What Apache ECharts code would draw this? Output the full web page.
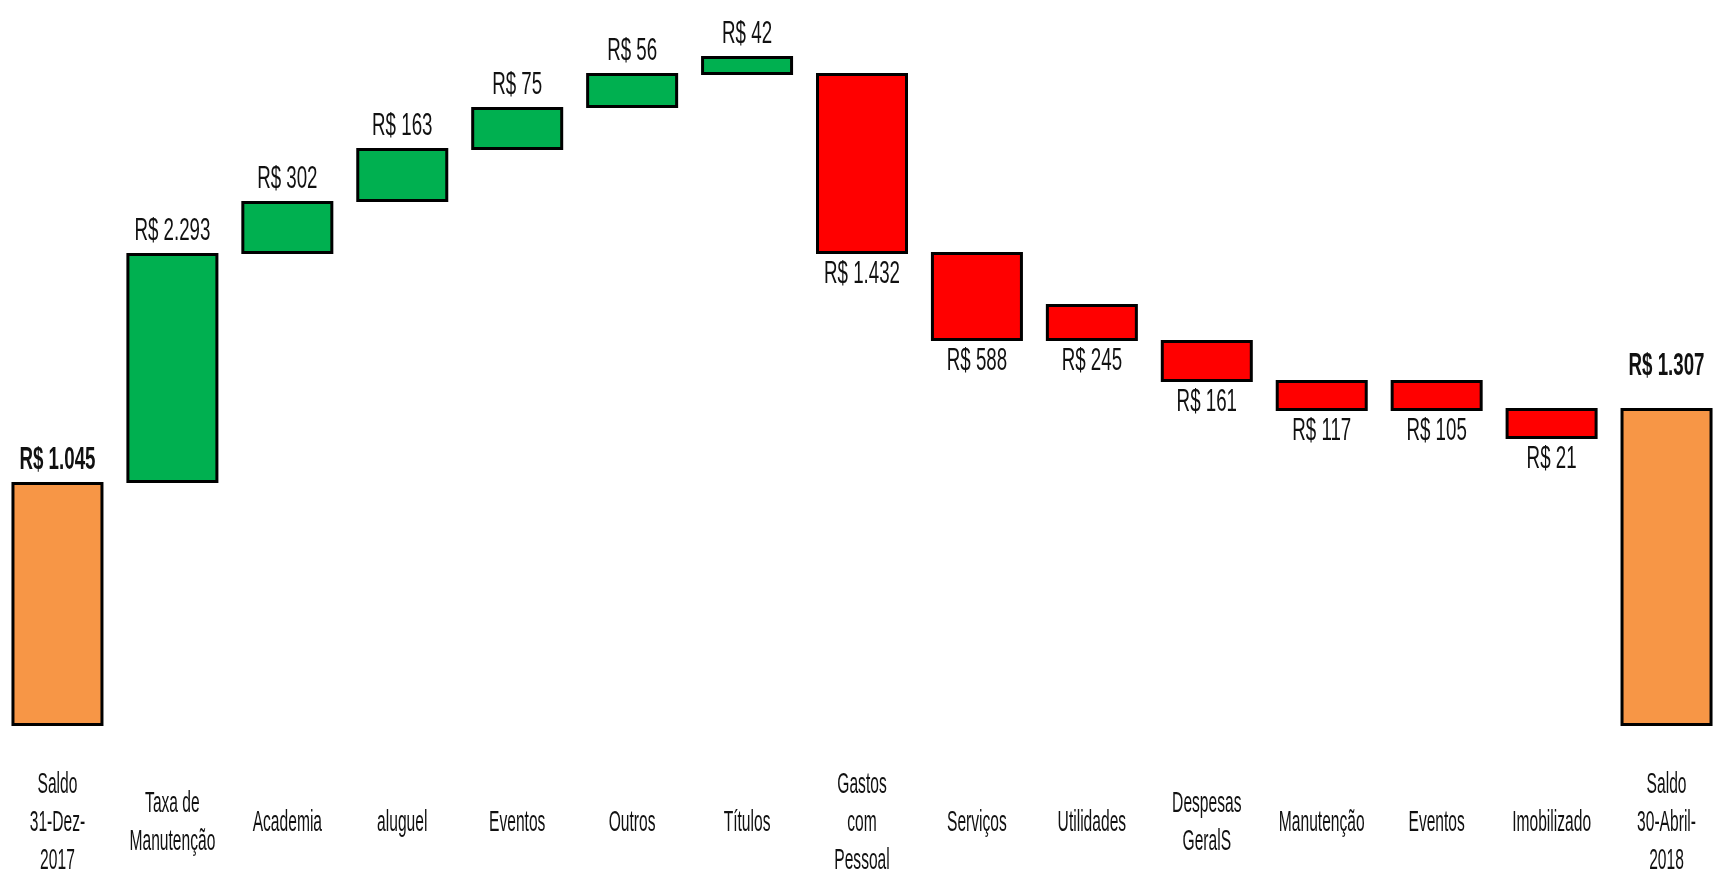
<!DOCTYPE html>
<html>
<head>
<meta charset="utf-8">
<script src="https://cdn.jsdelivr.net/npm/echarts@6/dist/echarts.min.js"></script>
<style>
  html, body { margin: 0; padding: 0; background: #ffffff; }
  #chart { width: 1729px; height: 879px; }
</style>
</head>
<body>
<div id="chart"></div>
<script>
// Categories (x-axis labels, line breaks as in the reference)
const categories = [
  'Saldo\n31-Dez-\n2017', 'Taxa de\nManutenção', 'Academia', 'aluguel', 'Eventos',
  'Outros', 'Títulos', 'Gastos\ncom\nPessoal', 'Serviços', 'Utilidades',
  'Despesas\nGeralS', 'Manutenção', 'Eventos', 'Imobilizado', 'Saldo\n30-Abril-\n2018'
];
// Printed amounts (R$)
const amounts = [1045, 2293, 302, 163, 75, 56, 42, 1432, 588, 245, 161, 117, 105, 21, 1307];
// Kind of each step
const kinds = ['total', 'up', 'up', 'up', 'up', 'up', 'up', 'down', 'down', 'down', 'down', 'down', 'down', 'down', 'total'];
// Bar extents as drawn in the reference (drawing units, not to R$ scale)
const drawnBottom = [0, 243, 472, 524, 576, 618, 651, 472, 385, 385, 344, 315, 315, 287, 0];
const drawnTop    = [244, 473, 525, 578, 619, 653, 670, 653, 474, 422, 386, 346, 346, 318, 318];

const colors = { total: '#F79646', up: '#00B050', down: '#FF0000' };
const FONT = '"Liberation Sans", Arial, sans-serif';

function fmt(n) {
  const s = String(n);
  return 'R$ ' + s.replace(/\B(?=(\d{3})+(?!\d))/g, '.');
}

const bodyData = drawnTop.map((t, i) => ({
  value: t - drawnBottom[i],
  itemStyle: { color: colors[kinds[i]] }
}));

const chart = echarts.init(document.getElementById('chart'));
chart.setOption({
  animation: false,
  backgroundColor: '#ffffff',
  grid: { left: -5, right: 5, top: 26, bottom: 153, containLabel: false },
  xAxis: {
    type: 'category',
    data: categories,
    axisLine: { show: false },
    axisTick: { show: false },
    splitLine: { show: false },
    axisLabel: { show: false }
  },
  yAxis: { type: 'value', min: 0, max: 700, show: false },
  series: [
    {
      name: 'base',
      type: 'bar',
      stack: 'w',
      silent: true,
      barWidth: 92,
      itemStyle: { color: 'rgba(0,0,0,0)', borderWidth: 0 },
      data: drawnBottom
    },
    {
      name: 'valor',
      type: 'bar',
      stack: 'w',
      barWidth: 92,
      itemStyle: { borderColor: '#000', borderWidth: 3 },
      data: bodyData
    },
    {
      // value labels (narrow, tall lettering like the reference)
      name: 'rotulos',
      type: 'custom',
      clip: false,
      silent: true,
      data: amounts.map((a, i) => [i, kinds[i] === 'down' ? drawnBottom[i] : drawnTop[i]]),
      encode: { x: 0, y: 1 },
      renderItem: function (params, api) {
        const i = params.dataIndex;
        const k = kinds[i];
        const p = api.coord([api.value(0), api.value(1)]);
        let gap = k === 'down' ? 20 : 22;
        if (k === 'total') gap = i === 0 ? 22 : 42;
        return {
          type: 'text',
          x: p[0],
          y: k === 'down' ? p[1] + gap : p[1] - gap,
          scaleX: 0.78,
          scaleY: 1.32,
          style: {
            text: fmt(amounts[i]),
            fill: '#111',
            fontFamily: FONT,
            fontSize: 24,
            fontWeight: k === 'total' ? 'bold' : 'normal',
            align: 'center',
            verticalAlign: 'middle'
          }
        };
      }
    },
    {
      // category labels under the bars
      name: 'categorias',
      type: 'custom',
      clip: false,
      silent: true,
      data: categories.map((c, i) => [i, 0]),
      encode: { x: 0, y: 1 },
      renderItem: function (params, api) {
        const i = params.dataIndex;
        const p = api.coord([api.value(0), 0]);
        return {
          type: 'text',
          x: p[0],
          y: p[1] + 97,
          scaleX: 0.78,
          scaleY: 1.45,
          style: {
            text: categories[i],
            fill: '#111',
            fontFamily: FONT,
            fontSize: 20,
            lineHeight: 26,
            align: 'center',
            verticalAlign: 'middle'
          }
        };
      }
    }
  ]
});
</script>
</body>
</html>
